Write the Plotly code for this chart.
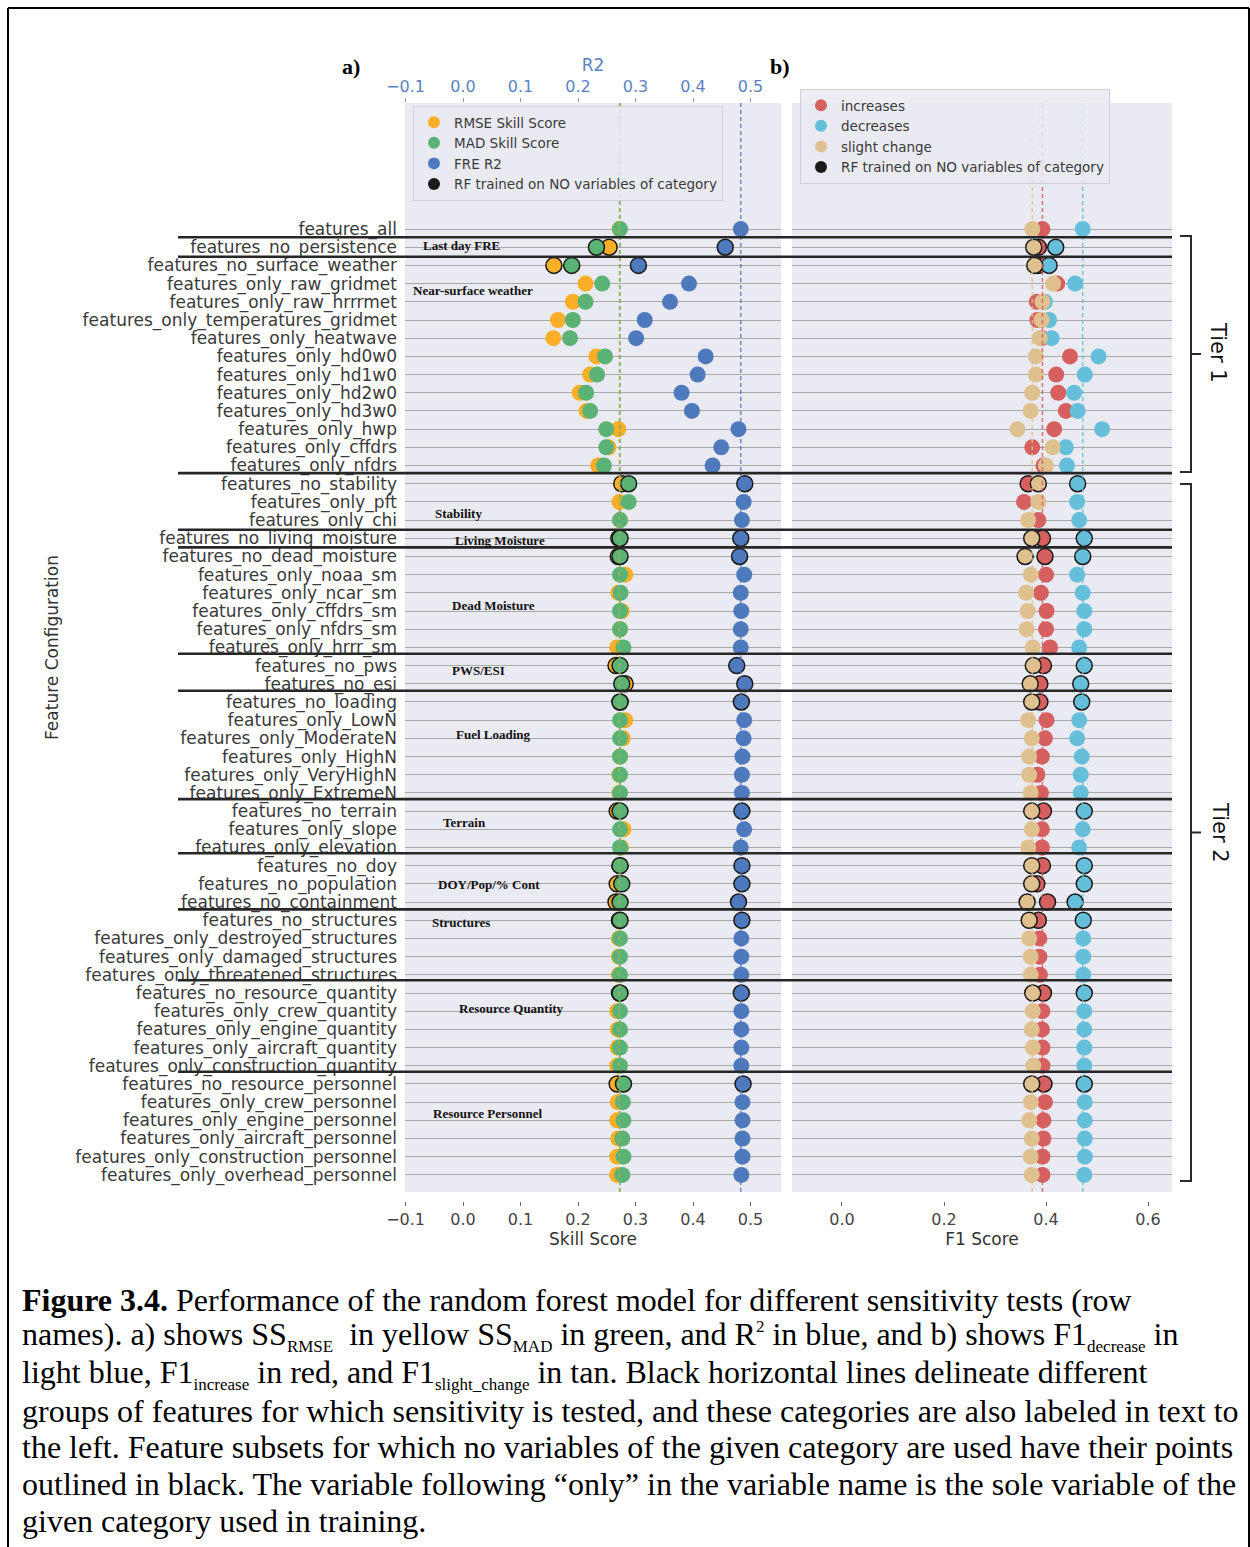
import plotly.graph_objects as go

W, H = 1250, 1547
def px(x): return x / W
def py(y): return 1 - y / H

features = [
    "features_all", "features_no_persistence", "features_no_surface_weather",
    "features_only_raw_gridmet", "features_only_raw_hrrrmet", "features_only_temperatures_gridmet",
    "features_only_heatwave", "features_only_hd0w0", "features_only_hd1w0", "features_only_hd2w0",
    "features_only_hd3w0", "features_only_hwp", "features_only_cffdrs", "features_only_nfdrs",
    "features_no_stability", "features_only_pft", "features_only_chi", "features_no_living_moisture",
    "features_no_dead_moisture", "features_only_noaa_sm", "features_only_ncar_sm", "features_only_cffdrs_sm",
    "features_only_nfdrs_sm", "features_only_hrrr_sm", "features_no_pws", "features_no_esi",
    "features_no_loading", "features_only_LowN", "features_only_ModerateN", "features_only_HighN",
    "features_only_VeryHighN", "features_only_ExtremeN", "features_no_terrain", "features_only_slope",
    "features_only_elevation", "features_no_doy", "features_no_population", "features_no_containment",
    "features_no_structures", "features_only_destroyed_structures", "features_only_damaged_structures",
    "features_only_threatened_structures", "features_no_resource_quantity", "features_only_crew_quantity",
    "features_only_engine_quantity", "features_only_aircraft_quantity", "features_only_construction_quantity",
    "features_no_resource_personnel", "features_only_crew_personnel", "features_only_engine_personnel",
    "features_only_aircraft_personnel", "features_only_construction_personnel", "features_only_overhead_personnel",
]

rmse_ss = [0.272, 0.254, 0.158, 0.213, 0.191, 0.165, 0.157, 0.232, 0.221, 0.203, 0.215, 0.270, 0.253, 0.235,
           0.276, 0.272, 0.273, 0.271, 0.270, 0.282, 0.270, 0.276, 0.273, 0.268, 0.266, 0.282, 0.273,
           0.282, 0.278, 0.273, 0.272, 0.272, 0.268, 0.279, 0.275, 0.273, 0.268, 0.266, 0.272, 0.271,
           0.271, 0.271, 0.272, 0.268, 0.269, 0.269, 0.268, 0.268, 0.269, 0.268, 0.270, 0.268, 0.268]
mad_ss = [0.273, 0.232, 0.189, 0.242, 0.213, 0.191, 0.186, 0.247, 0.233, 0.214, 0.221, 0.249, 0.249, 0.245,
          0.288, 0.288, 0.273, 0.273, 0.273, 0.273, 0.274, 0.273, 0.273, 0.279, 0.273, 0.276, 0.273,
          0.273, 0.273, 0.273, 0.273, 0.273, 0.273, 0.273, 0.273, 0.273, 0.276, 0.273, 0.273, 0.273,
          0.273, 0.273, 0.273, 0.273, 0.273, 0.273, 0.273, 0.279, 0.278, 0.279, 0.277, 0.279, 0.277]
fre_r2 = [0.483, 0.456, 0.305, 0.393, 0.360, 0.316, 0.301, 0.422, 0.408, 0.380, 0.398, 0.479, 0.449, 0.434,
          0.490, 0.488, 0.485, 0.483, 0.481, 0.489, 0.483, 0.484, 0.483, 0.483, 0.476, 0.490, 0.484,
          0.489, 0.488, 0.486, 0.485, 0.485, 0.485, 0.489, 0.483, 0.485, 0.485, 0.479, 0.485, 0.484,
          0.484, 0.484, 0.484, 0.484, 0.484, 0.484, 0.484, 0.487, 0.486, 0.486, 0.486, 0.486, 0.484]

f1_increase = [0.393, 0.385, 0.385, 0.422, 0.382, 0.383, 0.392, 0.447, 0.420, 0.424, 0.439, 0.416, 0.373, 0.395,
               0.365, 0.357, 0.385, 0.393, 0.398, 0.400, 0.390, 0.401, 0.400, 0.408, 0.395, 0.388, 0.388,
               0.401, 0.398, 0.392, 0.383, 0.390, 0.395, 0.392, 0.392, 0.393, 0.382, 0.403, 0.385, 0.387,
               0.387, 0.388, 0.395, 0.393, 0.392, 0.393, 0.393, 0.396, 0.398, 0.395, 0.395, 0.393, 0.393]
f1_decrease = [0.472, 0.419, 0.406, 0.457, 0.398, 0.406, 0.411, 0.503, 0.476, 0.455, 0.462, 0.510, 0.439, 0.441,
               0.462, 0.461, 0.465, 0.475, 0.472, 0.461, 0.472, 0.475, 0.475, 0.465, 0.475, 0.468, 0.470,
               0.465, 0.461, 0.470, 0.468, 0.468, 0.475, 0.472, 0.465, 0.475, 0.475, 0.457, 0.473, 0.473,
               0.473, 0.473, 0.475, 0.475, 0.475, 0.475, 0.475, 0.475, 0.476, 0.476, 0.476, 0.476, 0.475]
f1_slight = [0.373, 0.376, 0.378, 0.414, 0.393, 0.391, 0.388, 0.380, 0.380, 0.373, 0.370, 0.344, 0.413, 0.400,
             0.385, 0.385, 0.365, 0.372, 0.359, 0.370, 0.361, 0.364, 0.362, 0.374, 0.375, 0.369, 0.372,
             0.365, 0.372, 0.367, 0.367, 0.370, 0.372, 0.372, 0.365, 0.372, 0.372, 0.363, 0.367, 0.367,
             0.370, 0.370, 0.374, 0.374, 0.372, 0.374, 0.375, 0.372, 0.370, 0.367, 0.372, 0.370, 0.372]

# 1 = RF trained on NO variables of the category (outlined points)
no_category = [0, 1, 1, 0, 0, 0, 0, 0, 0, 0, 0, 0, 0, 0,
               1, 0, 0, 1, 1, 0, 0, 0, 0, 0, 1, 1, 1,
               0, 0, 0, 0, 0, 1, 0, 0, 1, 1, 1, 1, 0,
               0, 0, 1, 0, 0, 0, 0, 1, 0, 0, 0, 0, 0]

group_names = ["Last day FRE", "Near-surface weather", "Stability", "Living Moisture", "Dead Moisture",
               "PWS/ESI", "Fuel Loading", "Terrain", "DOY/Pop/% Cont", "Structures",
               "Resource Quantity", "Resource Personnel"]

left_x_ticks = [-0.1, 0.0, 0.1, 0.2, 0.3, 0.4, 0.5]
right_x_ticks = [0.0, 0.2, 0.4, 0.6]

C_ORANGE = "#FDAE27"
C_GREEN = "#5AB374"
C_BLUE = "#4F79BD"
C_RED = "#D65F5F"
C_CYAN = "#66BFDA"
C_TAN = "#DFC08F"

rows = list(range(len(features)))
line_w = [1.5 if f else 0 for f in no_category]
MS = 16

fig = go.Figure()

def add_series(xv, color, xa, ya):
    fig.add_trace(go.Scatter(
        x=xv, y=rows, mode="markers", xaxis=xa, yaxis=ya, showlegend=False,
        marker=dict(size=MS, color=color, line=dict(color="#1a1a1a", width=line_w)),
        hoverinfo="x+y"))

# left panel
add_series(rmse_ss, C_ORANGE, "x", "y")
add_series(mad_ss, C_GREEN, "x", "y")
add_series(fre_r2, C_BLUE, "x", "y")
# right panel
add_series(f1_increase, C_RED, "x2", "y2")
add_series(f1_decrease, C_CYAN, "x2", "y2")
add_series(f1_slight, C_TAN, "x2", "y2")

Y_TOP, Y_BOT = -6.93, 52.94

def add_ref(val, color, xa, ya):
    fig.add_trace(go.Scatter(
        x=[val, val], y=[Y_TOP, Y_BOT], mode="lines", xaxis=xa, yaxis=ya, showlegend=False,
        line=dict(color=color, width=1.6, dash="4px,3px"), opacity=0.8, hoverinfo="skip"))

add_ref(rmse_ss[0], C_ORANGE, "x", "y")
add_ref(mad_ss[0], C_GREEN, "x", "y")
add_ref(fre_r2[0], C_BLUE, "x", "y")
add_ref(f1_slight[0], C_TAN, "x2", "y2")
add_ref(f1_increase[0], C_RED, "x2", "y2")
add_ref(f1_decrease[0], C_CYAN, "x2", "y2")

# legend entries
def add_leg(name, color, legend, grp):
    fig.add_trace(go.Scatter(x=[None], y=[None], mode="markers", name=name, legend=legend,
                             legendgroup=grp, marker=dict(size=13, color=color)))

add_leg("RMSE Skill Score", C_ORANGE, "legend", "a1")
add_leg("MAD Skill Score", C_GREEN, "legend", "a2")
add_leg("FRE R2", C_BLUE, "legend", "a3")
add_leg("RF trained on NO variables of category", "#1a1a1a", "legend", "a4")
add_leg("increases", C_RED, "legend2", "b1")
add_leg("decreases", C_CYAN, "legend2", "b2")
add_leg("slight change", C_TAN, "legend2", "b3")
add_leg("RF trained on NO variables of category", "#1a1a1a", "legend2", "b4")

TXT = "#3a3a3a"
BASE = "DejaVu Sans"
yd = [py(1192), py(103)]

legend_common = dict(bgcolor="rgba(234,234,242,0.85)", bordercolor="#cfcfd6", borderwidth=1,
                     font=dict(family=BASE, size=13.5, color=TXT), xanchor="left", yanchor="top",
                     tracegroupgap=0, itemsizing="constant")

fig.update_layout(
    width=W, height=H, margin=dict(l=0, r=0, t=0, b=0, autoexpand=False),
    paper_bgcolor="white", plot_bgcolor="#EAEAF2",
    font=dict(family=BASE, color=TXT),
    legend=dict(x=px(413), y=py(106), **legend_common),
    legend2=dict(x=px(800), y=py(89), **legend_common),
    xaxis=dict(domain=[px(405), px(781)], range=[-0.101, 0.553], anchor="free", position=py(1201),
               tickvals=left_x_ticks, tickformat=".1f", ticks="outside", ticklen=4, tickcolor="#666",
               showgrid=False, zeroline=False, showline=False, automargin=False,
               tickfont=dict(size=16, color="#444"),
               title=dict(text="Skill Score", font=dict(size=17, color="#333"), standoff=4)),
    xaxis2=dict(domain=[px(792), px(1172)], range=[-0.098, 0.647], anchor="free", position=py(1201),
                tickvals=right_x_ticks, tickformat=".1f", ticks="outside", ticklen=4, tickcolor="#666",
                showgrid=False, zeroline=False, showline=False, automargin=False,
                tickfont=dict(size=16, color="#444"),
                title=dict(text="F1 Score", font=dict(size=17, color="#333"), standoff=4)),
    xaxis3=dict(overlaying="x", side="top", anchor="y", range=[-0.101, 0.553],
                tickvals=left_x_ticks, tickformat=".1f", ticks="outside", ticklen=4, tickcolor="#7f9fd5",
                showgrid=False, zeroline=False, showline=False, automargin=False,
                tickfont=dict(size=16, color="#5b82c4"),
                title=dict(text="R2", font=dict(size=17, color="#5b82c4"), standoff=0)),
    yaxis=dict(domain=yd, range=[Y_BOT, Y_TOP], anchor="x", tickvals=rows, ticktext=features,
               ticks="", showgrid=True, gridcolor="#a9a9a9", gridwidth=1.4, zeroline=False, showline=False,
               automargin=False, tickfont=dict(size=17, color=TXT), ticklabelstandoff=7),
    yaxis2=dict(domain=yd, matches="y", anchor="x2", tickvals=rows, showticklabels=False, ticks="",
                automargin=False, showgrid=True, gridcolor="#a9a9a9", gridwidth=1.4, zeroline=False,
                showline=False),
)

# the top axis needs a trace to exist
fig.add_trace(go.Scatter(x=[None], y=[None], xaxis="x3", yaxis="y", showlegend=False, hoverinfo="skip"))

shapes = []
# group separators
sep_rows = [0.45, 1.52, 13.42, 16.53, 17.5, 23.35, 25.38, 31.34, 34.32, 37.4, 41.3, 46.33]
for s in sep_rows:
    shapes.append(dict(type="line", xref="paper", yref="y", x0=px(178), x1=px(1172), y0=s, y1=s,
                       line=dict(color="#262626", width=2.6), layer="above"))

# brackets
def bracket(y0, y1):
    ym = (y0 + y1) / 2
    xs, xv, xn = px(1180), px(1191), px(1201)
    path = (f"M {xs},{py(y0)} L {xv},{py(y0)} L {xv},{py(y1)} L {xs},{py(y1)} "
            f"M {xv},{py(ym)} L {xn},{py(ym)}")
    shapes.append(dict(type="path", xref="paper", yref="paper", path=path,
                       line=dict(color="#2a2a2a", width=2)))

bracket(236, 472)
bracket(484, 1181)

# frame
for (x0, y0, x1, y1) in [(8, 8, 1249, 8), (8, 8, 8, 1547), (1249, 8, 1249, 1547)]:
    shapes.append(dict(type="line", xref="paper", yref="paper", x0=px(x0), x1=px(x1), y0=py(y0), y1=py(y1),
                       line=dict(color="black", width=2)))

fig.update_layout(shapes=shapes)

ann = []
# group labels
group_pos = [(421, 245), (411, 290), (433, 514), (453, 540), (450, 606), (450, 670), (454, 734),
             (441, 822), (436, 884), (430, 922), (457, 1008), (431, 1113)]
for name, (gx, gy) in zip(group_names, group_pos):
    ann.append(dict(text="<b>" + name + "</b>", xref="paper", yref="paper", x=px(gx), y=py(gy),
                    xanchor="left", yanchor="middle", showarrow=False,
                    font=dict(family="Liberation Serif", size=13, color="#111")))

def label(text, x, y, size, family=BASE, color="#333", angle=0):
    ann.append(dict(text=text, xref="paper", yref="paper", x=px(x), y=py(y), xanchor="center",
                    yanchor="middle", textangle=angle, showarrow=False,
                    font=dict(family=family, size=size, color=color)))

label("Feature Configuration", 52, 648, 17, angle=-90)
label("<b>a)</b>", 351, 67, 22, family="Liberation Serif", color="black")
label("<b>b)</b>", 780, 67, 22, family="Liberation Serif", color="black")
label("Tier 1", 1218, 352, 21, color="#111", angle=90)
label("Tier 2", 1220, 832, 21, color="#111", angle=90)

def sub(t):
    return "<sub><span style='font-size:17px'>" + t + "</span></sub>"

def sup(t):
    return "<sup><span style='font-size:17px'>" + t + "</span></sup>"

caption = [
    "<b>Figure 3.4.</b> Performance of the random forest model for different sensitivity tests (row",
    "names). a) shows SS" + sub("RMSE") + "  in yellow SS" + sub("MAD") + " in green, and R" + sup("2")
    + " in blue, and b) shows F1" + sub("decrease") + " in",
    "light blue, F1" + sub("increase") + " in red, and F1" + sub("slight_change")
    + " in tan. Black horizontal lines delineate different",
    "groups of features for which sensitivity is tested, and these categories are also labeled in text to",
    "the left. Feature subsets for which no variables of the given category are used have their points",
    "outlined in black. The variable following \u201conly\u201d in the variable name is the sole variable of the",
    "given category used in training.",
]
cap_y = [1300, 1336, 1374, 1411, 1447, 1484, 1521]
for t, cy in zip(caption, cap_y):
    ann.append(dict(text=t, xref="paper", yref="paper", x=px(20), y=py(cy), xanchor="left", yanchor="middle",
                    showarrow=False, font=dict(family="Liberation Serif", size=32, color="black")))

fig.update_layout(annotations=ann)

fig.write_html("out.html")
